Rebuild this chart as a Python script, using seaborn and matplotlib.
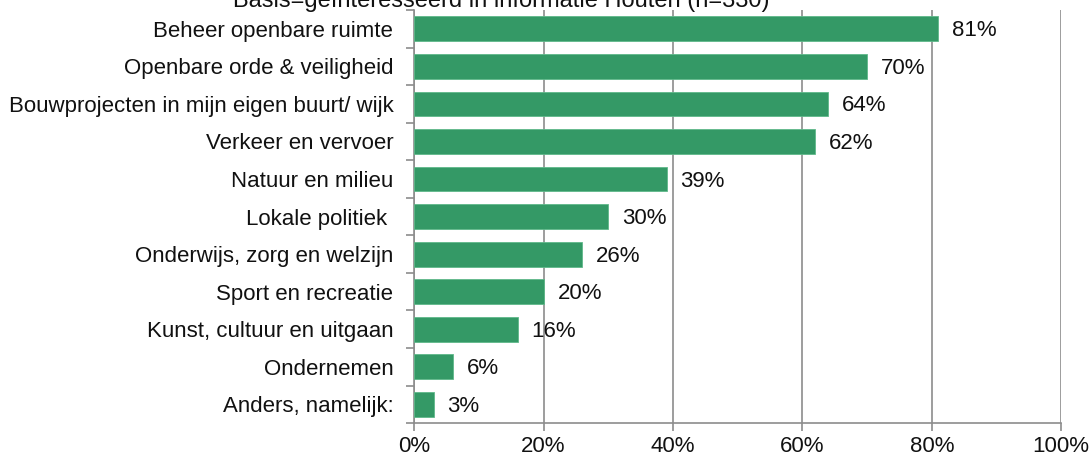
import matplotlib
matplotlib.use("Agg")
import matplotlib.pyplot as plt
import seaborn as sns
import pandas as pd
from matplotlib.ticker import PercentFormatter

categories = [
    "Beheer openbare ruimte",
    "Openbare orde & veiligheid",
    "Bouwprojecten in mijn eigen buurt/ wijk",
    "Verkeer en vervoer",
    "Natuur en milieu",
    "Lokale politiek ",
    "Onderwijs, zorg en welzijn",
    "Sport en recreatie",
    "Kunst, cultuur en uitgaan",
    "Ondernemen",
    "Anders, namelijk:",
]
values = [81, 70, 64, 62, 39, 30, 26, 20, 16, 6, 3]
x_ticks = [0, 20, 40, 60, 80, 100]
title = "Basis=geïnteresseerd in informatie Houten (n=330)"

df = pd.DataFrame({"categorie": categories, "percentage": values})

sns.set_theme(style="white")
plt.rcParams["font.family"] = ["Liberation Sans", "DejaVu Sans"]

fig = plt.figure(figsize=(10.9, 4.55), dpi=100)
ax = fig.add_axes([0.380, 0.070, 0.5936, 0.908])

bar_color = "#349966"
sns.barplot(data=df, x="percentage", y="categorie", orient="h",
            color=bar_color, saturation=1, width=0.66, ax=ax,
            edgecolor="#5fb98a", linewidth=0.6, zorder=3)

ax.set_xlim(0, 100)
ax.set_ylim(len(categories) - 0.5, -0.5)
ax.set_xticks(x_ticks)
ax.xaxis.set_major_formatter(PercentFormatter(decimals=0))
ax.set_xlabel("")
ax.set_ylabel("")

grid_color = "#8c8c8c"
ax.grid(axis="x", color=grid_color, linewidth=1.2, zorder=0)
ax.grid(axis="y", visible=False)
for side in ["top", "right"]:
    ax.spines[side].set_visible(False)
for side in ["left", "bottom"]:
    ax.spines[side].set_color(grid_color)
    ax.spines[side].set_linewidth(1.2)

text_color = "#111111"
label_size = 16

# y ticks sit between category bands
ax.set_yticks(range(len(categories)))
ax.set_yticklabels(categories)
ax.tick_params(axis="y", length=0, pad=15, labelsize=label_size, labelcolor=text_color)
ax.set_yticks([i + 0.5 for i in range(-1, len(categories))], minor=True)
ax.tick_params(axis="y", which="minor", length=6, width=1.2, color=grid_color, left=True)
ax.tick_params(axis="x", length=6, width=1.2, color=grid_color, bottom=True,
               labelsize=label_size, labelcolor=text_color, pad=3)

for i, v in enumerate(values):
    ax.annotate(f"{v}%", xy=(v, i), xytext=(10, -1.5), textcoords="offset points",
                va="center", ha="left", fontsize=label_size, color=text_color)

fig.text(0.46, 1 - 7 / 455, title, ha="center", va="baseline", fontsize=17, color=text_color)

fig.savefig("out.png", dpi=100)
